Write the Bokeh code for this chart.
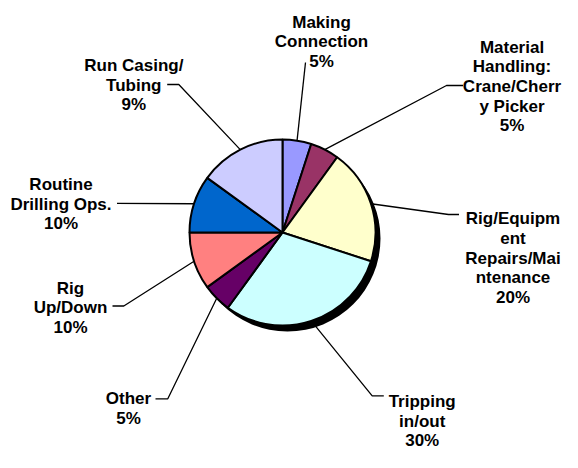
import math
from bokeh.plotting import figure
from bokeh.models import Range1d, ColumnDataSource
from bokeh.core.properties import value
from bokeh.embed import file_html
from bokeh.resources import INLINE

# ---- data ----
categories = ["Making Connection", "Material Handling: Crane/Cherry Picker",
              "Rig/Equipment Repairs/Maintenance", "Tripping in/out", "Other",
              "Rig Up/Down", "Routine Drilling Ops.", "Run Casing/Tubing"]
shares = [5, 5, 20, 30, 5, 10, 10, 15]          # slice sizes as drawn
pct_labels = ["5%", "5%", "20%", "30%", "5%", "10%", "10%", "9%"]   # label texts as printed
label_lines = [["Making", "Connection"],
               ["Material", "Handling:", "Crane/Cherr", "y Picker"],
               ["Rig/Equipm", "ent", "Repairs/Mai", "ntenance"],
               ["Tripping", "in/out"],
               ["Other"],
               ["Rig", "Up/Down"],
               ["Routine", "Drilling Ops."],
               ["Run Casing/", "Tubing"]]
colors = ["#9999FF", "#993366", "#FFFFCC", "#CCFFFF", "#660066", "#FF8080", "#0066CC", "#CCCCFF"]

# ---- layout ----
W, H = 562, 452


def X(sx):
    return sx


def Y(sy):
    return H - sy


CX, CY, R = X(282), Y(232), 93
SHADOW_DX, SHADOW_DY = 5, 6
LINE_H = 19.7
FONT_SIZE = "17px"

# label layout (center x, first baseline y) in picture pixels
label_pos = [(321, 21.5), (511.5, 46.5), (512.5, 218.3), (421.7, 401), (128, 398.3),
             (70, 287.5), (60.5, 184), (133.3, 65)]
# leader path points (picture pixels) after the pie edge point
leader_pts = [[(305, 62)],
              [(446, 85), (462.5, 85)],
              [(448, 214), (458.5, 214)],
              [(371.7, 395.3), (383.3, 395.3)],
              [(167.3, 398.3), (155, 398.3)],
              [(123.3, 305.5), (112, 305.5)],
              [(116.5, 202.8)],
              [(178.3, 84), (166.7, 84)]]

p = figure(width=W, height=H, x_range=Range1d(0, W), y_range=Range1d(0, H),
           output_backend="svg", toolbar_location=None,
           x_axis_type=None, y_axis_type=None, min_border=0)
p.outline_line_color = None
p.background_fill_color = "white"
p.border_fill_color = "white"

total = float(sum(shares))
starts, ends, mids = [], [], []
acc = 0.0
for v in shares:
    a0 = acc / total
    acc += v
    a1 = acc / total
    starts.append(math.pi / 2 - 2 * math.pi * a1)
    ends.append(math.pi / 2 - 2 * math.pi * a0)
    mids.append(math.pi / 2 - 2 * math.pi * (a0 + a1) / 2)

# shadow
p.circle(x=[CX + SHADOW_DX], y=[CY - SHADOW_DY], radius=R, fill_color="black",
         line_color=None)

src = ColumnDataSource(dict(cat=categories, start=starts, end=ends, color=colors))
p.wedge(x=CX, y=CY, radius=R, start_angle="start", end_angle="end",
        fill_color="color", line_color="black", line_width=2, source=src)

# leader lines
xs, ys = [], []
for m, pts in zip(mids, leader_pts):
    ex = CX + R * math.cos(m)
    ey = CY + R * math.sin(m)
    xs.append([ex] + [X(a) for a, b in pts])
    ys.append([ey] + [Y(b) for a, b in pts])
p.multi_line(xs=xs, ys=ys, line_color="black", line_width=1.3)

# labels
tx, ty, tt = [], [], []
for (lx, ly), lines, pct in zip(label_pos, label_lines, pct_labels):
    for i, t in enumerate(lines + [pct]):
        tx.append(X(lx))
        ty.append(Y(ly + i * LINE_H))
        tt.append(t)
p.text(x=tx, y=ty, text=tt, text_align="center", text_baseline="alphabetic",
       text_font=value("Liberation Sans"), text_font_style="bold",
       text_font_size=FONT_SIZE, text_color="black")

open("out.html", "w").write(file_html(p, INLINE))
